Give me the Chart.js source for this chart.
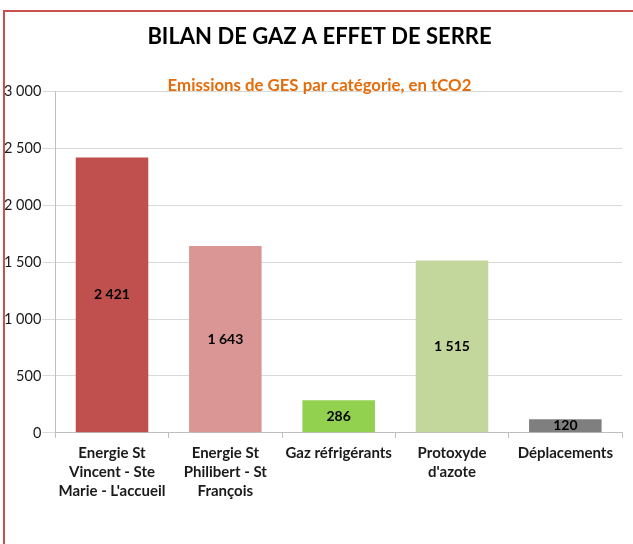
<!DOCTYPE html>
<html>
<head>
<meta charset="utf-8">
<script src="https://cdn.jsdelivr.net/npm/chart.js@4.4.0/dist/chart.umd.min.js"></script>
<style>
  body { margin: 0; background: #fff; }
  #wrap { position: relative; width: 633px; height: 544px; }
  #frame { position: absolute; left: 3px; top: 10px; width: 640px; height: 600px;
           border-left: 2px solid #c9504f; border-top: 2px solid #c9504f; pointer-events: none; }
</style>
</head>
<body>
<div id="wrap">
  <canvas id="gesChart" width="633" height="544"></canvas>
  <div id="frame"></div>
</div>
<script>
// Chart data
const categories = [
    ['Energie St', 'Vincent - Ste', 'Marie - L\'accueil'],
    ['Energie St', 'Philibert - St', 'François'],
    'Gaz réfrigérants',
    ['Protoxyde', 'd\'azote'],
    'Déplacements'
];
const emissions = [2421, 1643, 286, 1515, 120];
const barColors = ['#c0504d', '#d99694', '#92d050', '#c3d69b', '#7f7f7f'];
const yTicks = [0, 500, 1000, 1500, 2000, 2500, 3000];

function fmt(v) {
    return String(v).replace(/\B(?=(\d{3})+(?!\d))/g, ' ');
}

// value labels in the middle of each bar
const barLabels = {
    id: 'barLabels',
    afterDatasetsDraw(chart) {
        const c = chart.ctx;
        const meta = chart.getDatasetMeta(0);
        c.save();
        c.font = 'bold 14px Lato';
        c.fillStyle = '#000';
        c.textAlign = 'center';
        c.textBaseline = 'middle';
        meta.data.forEach((bar, i) => {
            const y = (bar.y + bar.base) / 2;
            c.fillText(fmt(emissions[i]), bar.x, y);
        });
        c.restore();
    }
};

// titles sit a bit right of the padded box centre in the original
const shiftTitles = {
    id: 'shiftTitles',
    afterLayout(chart) {
        chart.boxes.forEach(b => {
            if (b.options && b.options.text) {
                b.left += 7;
                b.right += 7;
            }
        });
    }
};

const ctx = document.getElementById('gesChart').getContext('2d');
new Chart(ctx, {
    type: 'bar',
    data: {
        labels: categories,
        datasets: [{
            data: emissions,
            backgroundColor: barColors,
            categoryPercentage: 0.64,
            barPercentage: 1
        }]
    },
    options: {
        responsive: false,
        animation: false,
        layout: { padding: { left: 3, right: 11, bottom: 37, top: 0 } },
        plugins: {
            legend: { display: false },
            tooltip: { enabled: false },
            title: {
                display: true,
                text: 'BILAN DE GAZ A EFFET DE SERRE',
                color: '#000',
                font: { family: 'Lato', size: 22, weight: 'bold' },
                padding: { top: 24, bottom: 25 }
            },
            subtitle: {
                display: true,
                text: 'Emissions de GES par catégorie, en tCO2',
                color: '#e46c0a',
                font: { family: 'Lato', size: 16.8, weight: 'bold' },
                padding: { top: 0, bottom: -4 }
            }
        },
        scales: {
            x: {
                grid: {
                    drawOnChartArea: false,
                    drawTicks: true,
                    tickLength: 5,
                    color: '#bfbfbf'
                },
                border: { color: '#bfbfbf' },
                ticks: {
                    color: '#1a1a1a',
                    font: { family: 'Lato', size: 15, weight: 'bold', lineHeight: 1.27 },
                    padding: 6,
                    maxRotation: 0,
                    autoSkip: false
                }
            },
            y: {
                min: 0,
                max: 3000,
                afterBuildTicks(axis) {
                    axis.ticks = yTicks.map(v => ({ value: v }));
                },
                grid: {
                    color: '#d9d9d9',
                    tickLength: 13
                },
                border: { color: '#bfbfbf' },
                ticks: {
                    color: '#1a1a1a',
                    font: { family: 'Lato', size: 14.5 },
                    padding: 1,
                    callback: v => fmt(v)
                }
            }
        }
    },
    plugins: [barLabels, shiftTitles]
});
</script>
</body>
</html>
